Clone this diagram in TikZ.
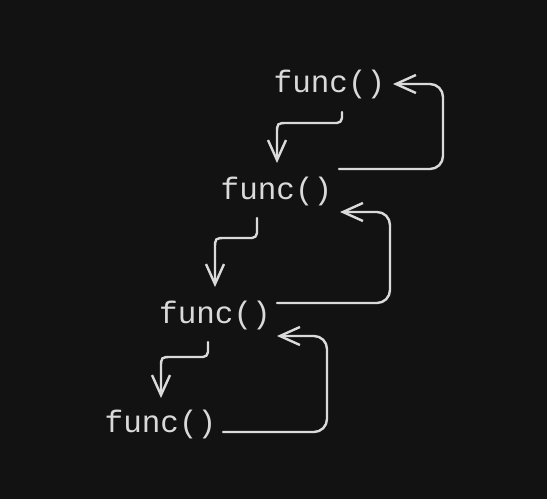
\documentclass[tikz,border=0pt]{standalone}
\usepackage{fontspec}
\setmonofont{Liberation Mono}
\usetikzlibrary{arrows.meta,calc}
\definecolor{bgdark}{HTML}{121212}
\definecolor{chalk}{HTML}{DADADA}
\newcommand{\fcall}{func()}

\begin{document}
\begin{tikzpicture}[x=1pt,y=-1pt,>={Straight Barb[length=20pt,width=18pt]},
  fn/.style={inner sep=0pt,anchor=base,text=chalk,font=\ttfamily\fontsize{31}{31}\selectfont},
  dn/.style={->,draw=chalk,line width=2.4pt,line cap=round,line join=round,rounded corners=5pt},
  rt/.style={->,draw=chalk,line width=2.4pt,line cap=round,line join=round,rounded corners=13pt}]
\fill[bgdark] (0,0) rectangle (547,499);
\node[fn] (f1) at (329.5,92) {\fcall};
\node[fn] (f2) at (276.5,199) {\fcall};
\node[fn] (f3) at (215,323) {\fcall};
\node[fn] (f4) at (160.5,432) {\fcall};
% calls going down
\draw[dn] ($(f1.base)+(12.5,20)$) |- ($(f2.base)+(16.5,-76)$)
  .. controls ($(f2.base)+(0.5,-76)$) .. ($(f2.base)+(0.5,-60)$) -- ($(f2.base)+(0.5,-36)$);
\draw[dn] ($(f2.base)+(-19.5,19)$) |- ($(f3.base)+(16,-85)$)
  .. controls ($(f3.base)+(0,-85)$) .. ($(f3.base)+(0,-69)$) -- ($(f3.base)+(0,-36)$);
\draw[dn] ($(f3.base)+(-7,19)$) |- ($(f4.base)+(16.5,-75)$)
  .. controls ($(f4.base)+(0.5,-75)$) .. ($(f4.base)+(0.5,-59)$) -- ($(f4.base)+(0.5,-34)$);
% returns going up
\draw[rt] ($(f2.base)+(62.5,-30)$) -| ($(f1.base)+(113.5,-8)$) -- ($(f1.base)+(63.5,-8)$);
\draw[rt] ($(f3.base)+(62,-20)$) -| ($(f2.base)+(113.5,13)$) -- ($(f2.base)+(63.5,13)$);
\draw[rt] ($(f4.base)+(62.5,0)$) -| ($(f3.base)+(112,13)$) -- ($(f3.base)+(62,13)$);
\end{tikzpicture}
\end{document}
